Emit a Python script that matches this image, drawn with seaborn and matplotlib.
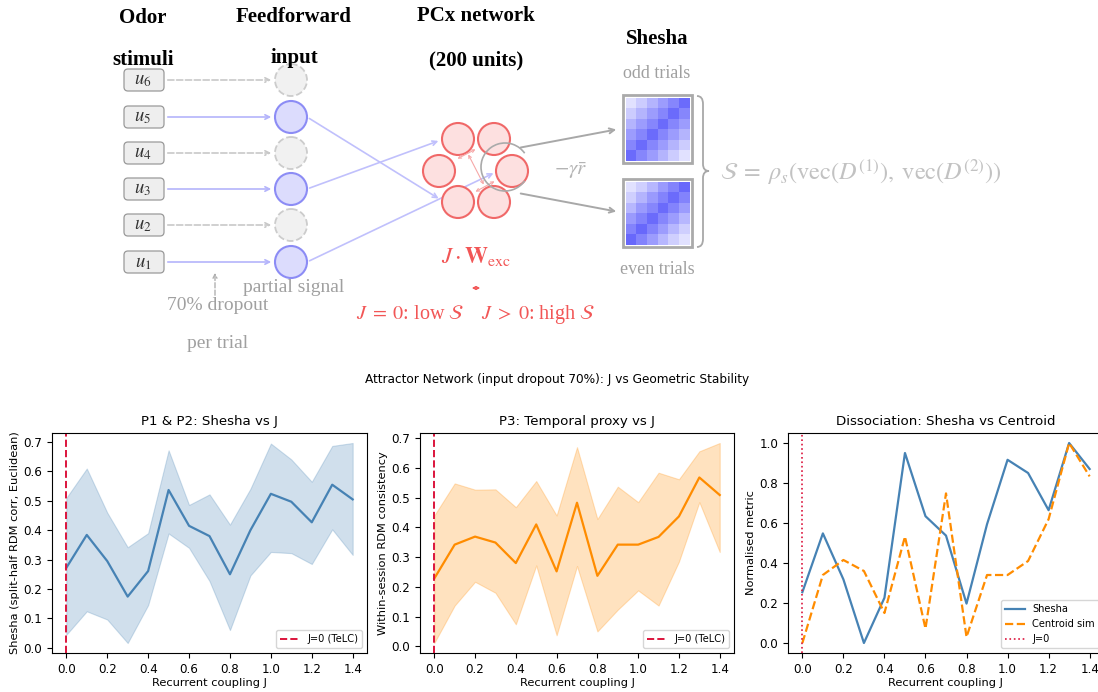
import numpy as np
import pandas as pd
import seaborn as sns
import matplotlib
matplotlib.use("Agg")
import matplotlib.pyplot as plt
from matplotlib.patches import Circle, FancyBboxPatch, Arc, PathPatch, Rectangle
from matplotlib.path import Path
from matplotlib.colors import LinearSegmentedColormap

# ---------------- data ----------------
J = [0.0, 0.1, 0.2, 0.3, 0.4, 0.5, 0.6, 0.7, 0.8, 0.9, 1.0, 1.1, 1.2, 1.3, 1.4]
shesha_mean = [0.272, 0.384, 0.295, 0.174, 0.261, 0.537, 0.415, 0.380, 0.250, 0.400,
               0.524, 0.497, 0.427, 0.555, 0.505]
shesha_hi = [0.510, 0.610, 0.460, 0.342, 0.390, 0.672, 0.486, 0.522, 0.419, 0.541,
             0.695, 0.641, 0.565, 0.687, 0.697]
shesha_lo = [0.044, 0.124, 0.096, 0.016, 0.145, 0.389, 0.340, 0.227, 0.060, 0.246,
             0.326, 0.322, 0.285, 0.403, 0.316]
temporal_mean = [0.228, 0.342, 0.369, 0.349, 0.280, 0.410, 0.252, 0.483, 0.237, 0.342,
                 0.342, 0.368, 0.437, 0.568, 0.509]
temporal_hi = [0.440, 0.548, 0.527, 0.528, 0.468, 0.556, 0.440, 0.670, 0.428, 0.537,
               0.485, 0.584, 0.562, 0.656, 0.684]
temporal_lo = [0.011, 0.137, 0.217, 0.180, 0.074, 0.272, 0.037, 0.270, 0.050, 0.123,
               0.188, 0.137, 0.285, 0.485, 0.317]
norm_shesha = [0.254, 0.548, 0.318, 0.000, 0.226, 0.950, 0.634, 0.537, 0.197, 0.594,
               0.916, 0.850, 0.664, 1.000, 0.870]
norm_centroid = [0.000, 0.340, 0.415, 0.360, 0.150, 0.532, 0.072, 0.748, 0.030, 0.340,
                 0.340, 0.410, 0.619, 1.000, 0.833]

input_labels = ["$u_6$", "$u_5$", "$u_4$", "$u_3$", "$u_2$", "$u_1$"]
input_kept = [False, True, False, True, False, True]

rdm_odd = [[0.08, 0.22, 0.38, 0.55, 0.70, 0.88],
           [0.22, 0.38, 0.55, 0.70, 0.88, 0.70],
           [0.38, 0.55, 0.70, 0.88, 0.70, 0.55],
           [0.55, 0.70, 0.88, 0.70, 0.55, 0.38],
           [0.70, 0.88, 0.70, 0.55, 0.38, 0.22],
           [0.88, 0.70, 0.55, 0.38, 0.22, 0.08]]
rdm_even = [[0.08, 0.20, 0.36, 0.56, 0.72, 0.90],
            [0.20, 0.38, 0.56, 0.72, 0.88, 0.72],
            [0.36, 0.56, 0.70, 0.88, 0.72, 0.55],
            [0.56, 0.72, 0.88, 0.70, 0.55, 0.36],
            [0.72, 0.90, 0.72, 0.55, 0.36, 0.20],
            [0.90, 0.72, 0.55, 0.36, 0.20, 0.08]]

# ---------------- figure ----------------
plt.rcParams["mathtext.fontset"] = "stix"
W, H = 1098, 692
fig = plt.figure(figsize=(W / 100, H / 100), dpi=100)

# ---- schematic (pixel coordinates) ----
sx = fig.add_axes([0, 0, 1, 1])
sx.set_xlim(0, W)
sx.set_ylim(H, 0)
sx.axis("off")
sx.patch.set_visible(False)

SERIF = "Liberation Serif"
for txt, x, y in [("Odor", 143, 18), ("stimuli", 143, 60), ("Feedforward", 294, 17),
                  ("input", 294, 58), ("PCx network", 476, 16), ("(200 units)", 476, 60),
                  ("Shesha", 657, 39)]:
    sx.text(x, y, txt, ha="center", va="center", fontsize=15, fontweight="bold",
            family=SERIF, color="black")

ys = [80, 117, 153, 189, 225, 262]
blue_edge = "#8c8cf5"
blue_fill = "#dcdcfd"
for lab, y, kept in zip(input_labels, ys, input_kept):
    sx.add_patch(FancyBboxPatch((124, y - 11), 40, 22, boxstyle="round,pad=0,rounding_size=4",
                                fc="#eeeeee", ec="#9a9a9a", lw=0.9))
    sx.text(143, y, lab, ha="center", va="center", fontsize=13.5, color="#333333")
    if kept:
        sx.annotate("", xy=(274, y), xytext=(165, y),
                    arrowprops=dict(arrowstyle="->", color="#b4b4fb", lw=1.2, mutation_scale=8))
        sx.add_patch(Circle((291, y), 16, fc=blue_fill, ec=blue_edge, lw=1.5))
    else:
        sx.annotate("", xy=(274, y), xytext=(165, y),
                    arrowprops=dict(arrowstyle="->", color="#c8c8c8", lw=1.2, ls="--",
                                    mutation_scale=8))
        sx.add_patch(Circle((291, y), 16, fc="#f1f1f1", ec="#cccccc", lw=1.3, ls="--"))

# feedforward projections
for (x0, y0), (x1, y1) in [((307, 117), (441, 200)), ((307, 189), (441, 140)),
                           ((307, 262), (496, 172))]:
    sx.annotate("", xy=(x1, y1), xytext=(x0, y0),
                arrowprops=dict(arrowstyle="->", color="#c0c0fc", lw=1.2, mutation_scale=8))

# PCx network units
for cx, cy in [(458, 139), (494, 139), (439, 171), (512, 171), (458, 202), (494, 202)]:
    sx.add_patch(Circle((cx, cy), 16, fc="#fde0e0", ec="#f06868", lw=1.5, zorder=3))
for (x0, y0), (x1, y1) in [((455, 160), (478, 148)), ((467, 152), (485, 187)),
                           ((473, 193), (497, 180))]:
    sx.annotate("", xy=(x1, y1), xytext=(x0, y0), zorder=4,
                arrowprops=dict(arrowstyle="<->", color="#f6a8a8", lw=0.8, mutation_scale=5))
sx.add_patch(Arc((505, 167), 48, 48, theta1=35, theta2=325, color="#aaaaaa", lw=1.2, zorder=5))

# arrows to RDMs
sx.annotate("", xy=(619, 129), xytext=(518, 148),
            arrowprops=dict(arrowstyle="->", color="#a8a8a8", lw=1.4, mutation_scale=9))
sx.annotate("", xy=(619, 212), xytext=(518, 193),
            arrowprops=dict(arrowstyle="->", color="#a8a8a8", lw=1.4, mutation_scale=9))
sx.text(571, 171, r"$-\gamma\bar{r}$", ha="center", va="center", fontsize=15, color="#b4b4b4")

sx.text(657, 73, "odd trials", ha="center", va="center", fontsize=13, family=SERIF,
        color="#a0a0a0")
sx.text(657, 270, "even trials", ha="center", va="center", fontsize=13, family=SERIF,
        color="#a0a0a0")

# brace
verts = [(697, 96), (703, 96), (703, 104), (703, 164), (703, 171), (709, 171),
         (703, 171), (703, 178), (703, 239), (703, 247), (697, 247)]
codes = [Path.MOVETO, Path.CURVE3, Path.CURVE3, Path.LINETO, Path.CURVE3, Path.CURVE3,
         Path.CURVE3, Path.CURVE3, Path.LINETO, Path.CURVE3, Path.CURVE3]
sx.add_patch(PathPatch(Path(verts, codes), fc="none", ec="#a8a8a8", lw=1.3))
sx.text(861, 172,
        r"$\mathcal{S}\;=\;\rho_s(\mathrm{vec}(D^{(1)}),\;\mathrm{vec}(D^{(2)}))$",
        ha="center", va="center", fontsize=17.5, color="#c2c2c2")

RED = "#f25656"
sx.text(476, 256, r"$J\cdot\mathbf{W}_{\mathrm{exc}}$", ha="center", va="center",
        fontsize=16.5, color=RED)
sx.annotate("", xy=(483, 288), xytext=(469, 288),
            arrowprops=dict(arrowstyle="<->", color=RED, lw=1.0, mutation_scale=5))
sx.text(476, 314, r"$J\;=\;0$: low $\mathcal{S}$    $J\;>\;0$: high $\mathcal{S}$",
        ha="center", va="center", fontsize=14.5, family=SERIF, color=RED)

sx.annotate("", xy=(215, 270), xytext=(215, 298),
            arrowprops=dict(arrowstyle="->", color="#b0b0b0", lw=1.0, ls="--", mutation_scale=7))
sx.text(294, 287, "partial signal", ha="center", va="center", fontsize=14, family=SERIF,
        color="#a0a0a0")
sx.text(218, 305, "70% dropout", ha="center", va="center", fontsize=14, family=SERIF,
        color="#a0a0a0")
sx.text(218, 343, "per trial", ha="center", va="center", fontsize=14, family=SERIF,
        color="#a0a0a0")

# RDM heatmaps
cmap = LinearSegmentedColormap.from_list("rdm", ["#ececff", "#5a5afb"])
for mat, (x0, y0) in [(rdm_odd, (623, 95)), (rdm_even, (623, 179))]:
    sx.add_patch(Rectangle((x0, y0), 69, 68, fc="white", ec="#aaaaaa", lw=2))
    axm = fig.add_axes([(x0 + 2.5) / W, 1 - (y0 + 65.5) / H, 64 / W, 63 / H])
    sns.heatmap(pd.DataFrame(mat), ax=axm, cmap=cmap, vmin=0, vmax=1, cbar=False,
                xticklabels=False, yticklabels=False, linewidths=0)
    axm.set_xlabel("")
    axm.set_ylabel("")

# ---- suptitle ----
fig.text(557 / W, 1 - 380 / H, "Attractor Network (input dropout 70%): J vs Geometric Stability",
         ha="center", va="center", fontsize=8.7, family="DejaVu Sans")

# ---- bottom panels ----
TICK = 8.6
LAB = 8.2
TITLE = 9.6
LEG = 7.1
LW = 1.6
bottom = 1 - 653 / H
height = 220 / H

def style(ax):
    ax.tick_params(labelsize=TICK)
    ax.set_xticks([0.0, 0.2, 0.4, 0.6, 0.8, 1.0, 1.2, 1.4])

ax1 = fig.add_axes([52 / W, bottom, 315 / W, height])
ax1.fill_between(J, shesha_lo, shesha_hi, color="steelblue", alpha=0.25, lw=0.8)
sns.lineplot(x=J, y=shesha_mean, ax=ax1, color="steelblue", lw=LW)
ax1.axvline(0, color="crimson", ls="--", lw=1.4, label="J=0 (TeLC)")
ax1.set_title("P1 & P2: Shesha vs J", fontsize=TITLE)
ax1.set_xlabel("Recurrent coupling J", fontsize=LAB, labelpad=1.5)
ax1.set_ylabel("Shesha (split-half RDM corr, Euclidean)", fontsize=LAB, labelpad=2.5)
ax1.legend(loc="lower right", fontsize=LEG)
style(ax1)

ax2 = fig.add_axes([420 / W, bottom, 314 / W, height])
ax2.fill_between(J, temporal_lo, temporal_hi, color="darkorange", alpha=0.25, lw=0.8)
sns.lineplot(x=J, y=temporal_mean, ax=ax2, color="darkorange", lw=LW)
ax2.axvline(0, color="crimson", ls="--", lw=1.4, label="J=0 (TeLC)")
ax2.set_title("P3: Temporal proxy vs J", fontsize=TITLE)
ax2.set_xlabel("Recurrent coupling J", fontsize=LAB, labelpad=1.5)
ax2.set_ylabel("Within-session RDM consistency", fontsize=LAB, labelpad=2.5)
ax2.legend(loc="lower right", fontsize=LEG)
style(ax2)

ax3 = fig.add_axes([788 / W, bottom, 316 / W, height])
sns.lineplot(x=J, y=norm_shesha, ax=ax3, color="steelblue", lw=LW, label="Shesha")
sns.lineplot(x=J, y=norm_centroid, ax=ax3, color="darkorange", lw=LW, ls="--",
             label="Centroid sim")
ax3.axvline(0, color="crimson", ls=":", lw=1.2, label="J=0")
ax3.set_title("Dissociation: Shesha vs Centroid", fontsize=TITLE)
ax3.set_xlabel("Recurrent coupling J", fontsize=LAB, labelpad=1.5)
ax3.set_ylabel("Normalised metric", fontsize=LAB, labelpad=2.5)
ax3.legend(loc="lower right", fontsize=LEG)
style(ax3)

fig.savefig("out.png", dpi=100)
